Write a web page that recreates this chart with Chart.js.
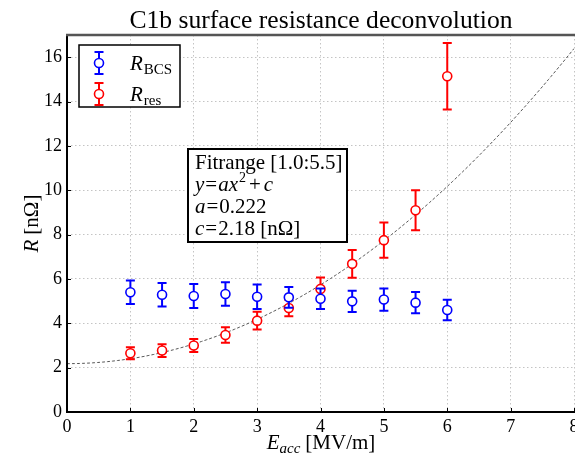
<!DOCTYPE html>
<html><head><meta charset="utf-8">
<script src="https://cdn.jsdelivr.net/npm/chart.js@4.4.0/dist/chart.umd.min.js"></script>
<style>html,body{margin:0;padding:0;background:#fff}canvas{display:block}</style>
</head><body>
<canvas id="c" width="575" height="463"></canvas>
<script>
// ---- data ----
const fieldValues = [1, 1.5, 2, 2.5, 3, 3.5, 4, 4.5, 5, 5.5, 6];          // E_acc [MV/m]
const rBCS      = [5.40, 5.29, 5.23, 5.32, 5.20, 5.17, 5.11, 4.99, 5.07, 4.93, 4.60];
const rBCSErr   = [0.53, 0.53, 0.54, 0.53, 0.55, 0.47, 0.46, 0.48, 0.50, 0.48, 0.46];
const rRes      = [2.65, 2.77, 3.00, 3.47, 4.12, 4.69, 5.55, 6.68, 7.75, 9.10, 15.14];
const rResErr   = [0.27, 0.29, 0.29, 0.35, 0.40, 0.37, 0.52, 0.63, 0.80, 0.90, 1.50];
const fitA = 0.222;   // fit parameter a
const fitC = 2.18;    // fit parameter c [nΩ]
const xTicks = [0, 1, 2, 3, 4, 5, 6, 7, 8];
const yTicks = [0, 2, 4, 6, 8, 10, 12, 14, 16];

const SERIF = '"Liberation Serif", "DejaVu Serif", serif';
const f = (size, style) => (style ? style + ' ' : '') + size + 'px ' + SERIF;

function richWidth(ctx, segs) {
  let w = 0;
  for (const s of segs) { ctx.font = s.font; w += ctx.measureText(s.t).width + (s.sp || 0); }
  return w;
}
function drawRich(ctx, segs, x, y) {
  let cx = x;
  for (const s of segs) {
    ctx.font = s.font;
    ctx.fillText(s.t, cx, y + (s.dy || 0));
    cx += ctx.measureText(s.t).width + (s.sp || 0);
  }
}

const errorSets = [rBCSErr, rResErr];

function drawErrorBar(ctx, px, pTop, pBot, color) {
  ctx.strokeStyle = color;
  ctx.lineWidth = 2;
  ctx.beginPath();
  ctx.moveTo(px, pTop); ctx.lineTo(px, pBot);
  ctx.moveTo(px - 4.5, pTop); ctx.lineTo(px + 4.5, pTop);
  ctx.moveTo(px - 4.5, pBot); ctx.lineTo(px + 4.5, pBot);
  ctx.stroke();
}

const customPlugin = {
  id: 'custom',
  beforeDatasetsDraw(chart) {
    // fit curve y = a x^2 + c drawn through the scales
    const {ctx, chartArea: ca, scales: {x, y}} = chart;
    ctx.save();
    ctx.beginPath(); ctx.rect(ca.left, ca.top, ca.right - ca.left, ca.bottom - ca.top); ctx.clip();
    ctx.strokeStyle = '#555';
    ctx.lineWidth = 1;
    ctx.setLineDash([3, 2]);
    ctx.beginPath();
    const steps = 200;
    for (let i = 0; i <= steps; i++) {
      const xv = x.min + (x.max - x.min) * i / steps;
      const px = x.getPixelForValue(xv), py = y.getPixelForValue(fitA * xv * xv + fitC);
      if (i === 0) ctx.moveTo(px, py); else ctx.lineTo(px, py);
    }
    ctx.stroke();
    ctx.restore();
  },
  beforeDatasetDraw(chart, args) {
    const ds = chart.data.datasets[args.index];
    const errs = errorSets[args.index];
    if (!errs) return;
    const {ctx, scales: {x, y}} = chart;
    ctx.save();
    ds.data.forEach((p, i) => {
      drawErrorBar(ctx, x.getPixelForValue(p.x), y.getPixelForValue(p.y + errs[i]), y.getPixelForValue(p.y - errs[i]), ds.borderColor);
    });
    ctx.restore();
  },
  afterDraw(chart) {
    const {ctx, chartArea: ca, scales: {x, y}} = chart;
    ctx.save();
    // inward tick marks
    ctx.strokeStyle = '#000'; ctx.lineWidth = 1; ctx.setLineDash([]);
    ctx.beginPath();
    xTicks.forEach(v => { const px = Math.round(x.getPixelForValue(v)) + 0.5; ctx.moveTo(px, ca.bottom); ctx.lineTo(px, ca.bottom - 4); });
    yTicks.forEach(v => { const py = Math.round(y.getPixelForValue(v)) + 0.5; ctx.moveTo(ca.left, py); ctx.lineTo(ca.left + 4, py); });
    ctx.stroke();
    // frame
    ctx.lineWidth = 2; ctx.strokeStyle = '#000';
    ctx.beginPath();
    ctx.moveTo(ca.left, ca.top); ctx.lineTo(ca.left, ca.bottom); ctx.lineTo(575, ca.bottom);
    ctx.stroke();
    ctx.strokeStyle = '#555'; ctx.lineWidth = 2.5;
    ctx.beginPath(); ctx.moveTo(ca.left - 1, ca.top); ctx.lineTo(575, ca.top); ctx.stroke();

    ctx.fillStyle = '#000';
    ctx.textBaseline = 'alphabetic';
    // title
    ctx.font = f(25.6);
    ctx.textAlign = 'center';
    ctx.fillText('C1b surface resistance deconvolution', 321, 28);
    ctx.textAlign = 'left';

    // x axis title
    const xt = [{t: 'E', font: f(21, 'italic')}, {t: 'acc', font: f(15, 'italic'), dy: 4, sp: 5}, {t: '[MV/m]', font: f(21)}];
    const xw = richWidth(ctx, xt);
    drawRich(ctx, xt, 321 - xw / 2, 449);

    // y axis title (rotated)
    ctx.save();
    ctx.translate(38, (ca.top + ca.bottom) / 2);
    ctx.rotate(-Math.PI / 2);
    const yt = [{t: 'R', font: f(21, 'italic'), sp: 5}, {t: '[nΩ]', font: f(21)}];
    const yw = richWidth(ctx, yt);
    drawRich(ctx, yt, -yw / 2, 0);
    ctx.restore();

    // legend
    ctx.fillStyle = '#fff'; ctx.strokeStyle = '#000'; ctx.lineWidth = 1.5;
    ctx.fillRect(79, 45, 101, 62); ctx.strokeRect(79, 45, 101, 62);
    const legend = [
      {color: '#0000ff', y: 63, sub: 'BCS'},
      {color: '#ff0000', y: 94, sub: 'res'}
    ];
    legend.forEach(L => {
      drawErrorBar(ctx, 99, L.y - 11, L.y + 11, L.color);
      ctx.beginPath(); ctx.arc(99, L.y, 4.5, 0, Math.PI * 2);
      ctx.fillStyle = '#fff'; ctx.fill();
      ctx.strokeStyle = L.color; ctx.lineWidth = 1.6; ctx.stroke();
      ctx.fillStyle = '#000';
      drawRich(ctx, [{t: 'R', font: f(21, 'italic'), sp: 1}, {t: L.sub, font: f(15), dy: 4}], 130, L.y + 7);
    });

    // fit text box
    ctx.fillStyle = '#fff'; ctx.strokeStyle = '#000'; ctx.lineWidth = 2;
    ctx.fillRect(188, 149, 159, 93); ctx.strokeRect(188, 149, 159, 93);
    ctx.fillStyle = '#000';
    const lx = 195;
    drawRich(ctx, [{t: 'Fitrange [1.0:5.5]', font: f(21)}], lx, 169);
    drawRich(ctx, [
      {t: 'y', font: f(21, 'italic'), sp: 1}, {t: '=', font: f(21), sp: 1},
      {t: 'ax', font: f(21, 'italic'), sp: 1}, {t: '2', font: f(14), dy: -9, sp: 3},
      {t: '+', font: f(21), sp: 3}, {t: 'c', font: f(21, 'italic')}
    ], lx, 191);
    drawRich(ctx, [{t: 'a', font: f(21, 'italic'), sp: 1}, {t: '=', font: f(21), sp: 1}, {t: String(fitA), font: f(21)}], lx, 213);
    drawRich(ctx, [{t: 'c', font: f(21, 'italic'), sp: 1}, {t: '=', font: f(21), sp: 1}, {t: fitC.toFixed(2) + ' [nΩ]', font: f(21)}], lx, 235);
    ctx.restore();
  }
};

const pointStyle = (color) => ({
  showLine: false,
  pointRadius: 4.5,
  pointBorderWidth: 1.6,
  pointBackgroundColor: '#fff',
  pointBorderColor: color,
  borderColor: color,
  backgroundColor: '#fff'
});

new Chart(document.getElementById('c'), {
  type: 'scatter',
  data: {
    datasets: [
      Object.assign({label: 'R_BCS', data: fieldValues.map((v, i) => ({x: v, y: rBCS[i]}))}, pointStyle('#0000ff')),
      Object.assign({label: 'R_res', data: fieldValues.map((v, i) => ({x: v, y: rRes[i]}))}, pointStyle('#ff0000'))
    ]
  },
  options: {
    responsive: false,
    devicePixelRatio: 1,
    animation: false,
    layout: {autoPadding: false, padding: {top: 35, right: 1, left: 0, bottom: 0}},
    plugins: {legend: {display: false}, tooltip: {enabled: false}, title: {display: false}},
    scales: {
      x: {
        type: 'linear', min: 0, max: 8,
        afterBuildTicks: a => { a.ticks = xTicks.map(v => ({value: v})); },
        afterFit: s => { s.height = 51; s.paddingLeft = 0; s.paddingRight = 0; },
        ticks: {font: {family: SERIF, size: 18}, color: '#000', padding: 4, maxRotation: 0, autoSkip: false},
        grid: {color: '#c4c4c4', drawTicks: false, lineWidth: 1},
        border: {display: false, dash: [1.5, 2.5]}
      },
      y: {
        type: 'linear', min: 0, max: 17,
        afterBuildTicks: a => { a.ticks = yTicks.map(v => ({value: v})); },
        afterFit: s => { s.width = 67; s.paddingTop = 0; s.paddingBottom = 0; },
        ticks: {font: {family: SERIF, size: 18}, color: '#000', padding: 5, autoSkip: false},
        grid: {color: '#c4c4c4', drawTicks: false, lineWidth: 1},
        border: {display: false, dash: [1.5, 2.5]}
      }
    }
  },
  plugins: [customPlugin]
});
</script>
</body></html>
